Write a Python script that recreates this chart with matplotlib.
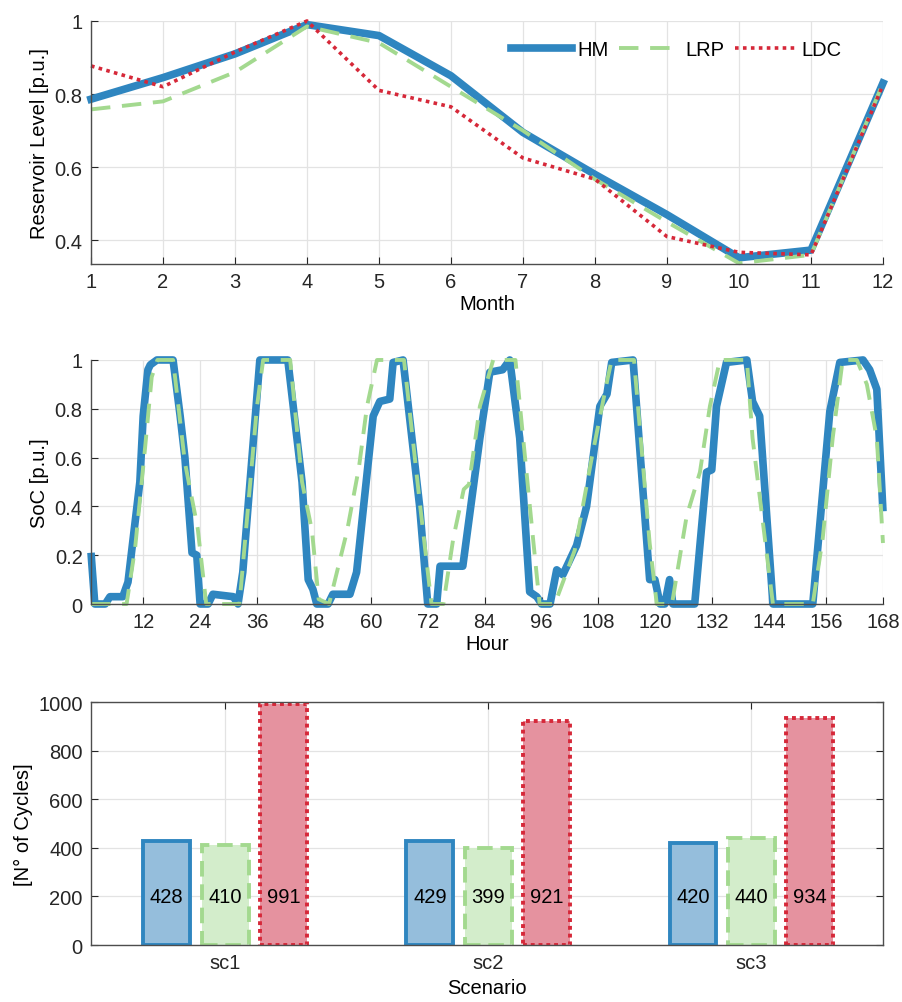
import matplotlib.pyplot as plt
import numpy as np

plt.rcParams['font.family'] = ['Liberation Sans', 'DejaVu Sans']
plt.rcParams['font.size'] = 14.5

# reservoir level per month [p.u.]
months = list(range(1, 13))
res_hm = [0.786, 0.845, 0.91, 0.99, 0.96, 0.85, 0.695, 0.58, 0.47, 0.352, 0.373, 0.83]
res_lrp = [0.758, 0.78, 0.86, 0.985, 0.94, 0.82, 0.70, 0.567, 0.45, 0.337, 0.36, 0.83]
res_ldc = [0.877, 0.82, 0.915, 1.0, 0.81, 0.765, 0.625, 0.567, 0.41, 0.367, 0.36, 0.825]

# battery state of charge over one week (hour, SoC) breakpoints
hm_hours = [1, 1.8, 4, 5, 7.7, 8.8, 11.3, 12, 13, 13.5, 14.9, 18.3, 19.8, 20.8, 22.3, 23.3, 24, 25.7,
            26.7, 31, 32, 33, 36.6, 42.5, 45.5, 46.8, 47.8, 48.6, 51, 52, 55.6, 57, 60.5, 61.9, 64,
            64.7, 66.8, 70.3, 72, 73.9, 74.6, 79.4, 83, 85.1, 87.8, 89.3, 91.4, 93.5, 95, 96, 97.8,
            99.2, 100.5, 103.4, 105.5, 108.3, 109.8, 110.8, 115.3, 118.8, 119.9, 121, 122, 123,
            123.7, 128.3, 129.4, 130.8, 131.9, 132.9, 135, 139.3, 140.5, 142, 144.8, 153.2, 156.8,
            158.9, 163.8, 165.2, 166.7, 168]
hm_soc = [0.21, 0, 0, 0.03, 0.03, 0.09, 0.5, 0.77, 0.96, 0.98, 1, 1, 0.77, 0.6, 0.21, 0.2, 0, 0,
          0.04, 0.03, 0, 0.13, 1, 1, 0.5, 0.1, 0.06, 0, 0, 0.04, 0.04, 0.13, 0.77, 0.83, 0.84,
          0.99, 1, 0.4, 0, 0, 0.155, 0.155, 0.68, 0.95, 0.96, 1, 0.68, 0.05, 0.03, 0, 0,
          0.14, 0.12, 0.24, 0.4, 0.81, 0.86, 0.99, 1, 0.1, 0.1, 0, 0, 0.1,
          0, 0, 0.24, 0.54, 0.55, 0.81, 0.99, 1, 0.83, 0.77, 0, 0, 0.79,
          0.99, 1, 0.96, 0.88, 0.38]
lrp_hours = [1, 8.5, 10.3, 12.4, 13.8, 15, 18.3, 20.8, 23.5, 25.3, 32.3, 36, 37.3, 43, 45.5, 47.6,
             49, 51.2, 55, 57.5, 59.2, 61.3, 67, 70.3, 72.8, 75.3, 77.4, 79.6, 80.7, 83, 85.8, 90.5,
             94.2, 95.6, 98.8, 103, 106.6, 110, 110.8, 115.5, 118.8, 120.3, 123.5, 126.6, 129.4,
             131.5, 133.6, 139.3, 140.5, 143.4, 144.8, 153.2, 155.3, 157.4, 159.5, 162.5, 164.6,
             166.7, 168]
lrp_soc = [0, 0, 0.23, 0.64, 0.93, 1, 1, 0.58, 0.31, 0, 0, 0.81, 1, 1, 0.5, 0.3,
           0.02, 0, 0.3, 0.56, 0.81, 1, 1, 0.42, 0, 0, 0.27, 0.47, 0.49, 0.81, 1, 1,
           0.27, 0, 0, 0.22, 0.6, 0.93, 1, 1, 0.25, 0, 0, 0.36, 0.54,
           0.81, 1, 1, 0.68, 0.22, 0, 0, 0.27, 0.68, 1, 1, 0.9,
           0.68, 0.25]

# number of battery cycles per scenario
scenarios = ['sc1', 'sc2', 'sc3']
cyc_hm = [428, 429, 420]
cyc_lrp = [410, 399, 440]
cyc_ldc = [991, 921, 934]

blue = '#2f86c0'
green = '#a3d98f'
red = '#d62839'
axis_col = '#4d4d4d'
grid_col = '#e3e3e3'

fig = plt.figure(figsize=(9.02, 10.03), dpi=100)
ax1 = fig.add_axes([0.1009, 0.7358, 0.8780, 0.2423])
ax2 = fig.add_axes([0.1009, 0.3968, 0.8780, 0.2433])
ax3 = fig.add_axes([0.1009, 0.0568, 0.8780, 0.2423])


def style(ax, box=False):
    for side in ['top', 'right']:
        ax.spines[side].set_visible(box)
    for sp in ax.spines.values():
        sp.set_color(axis_col)
        sp.set_linewidth(1.0)
    ax.tick_params(direction='in', length=5, colors='#262626', labelsize=14.5,
                   top=box, right=box, pad=6)
    ax.grid(True, color=grid_col, linewidth=0.9)
    ax.set_axisbelow(True)


# reservoir level
style(ax1)
ax1.plot(months, res_hm, color=blue, lw=5.5, label='HM', solid_joinstyle='round', clip_on=False)
ax1.plot(months, res_lrp, color=green, lw=2.8, ls=(0, (5, 3)), label='LRP', clip_on=False)
ax1.plot(months, res_ldc, color=red, lw=2.6, ls=(0, (1, 1.2)), label='LDC', clip_on=False)
ax1.set_xlim(1, 12)
ax1.set_ylim(0.335, 1.0)
ax1.set_xticks(months)
ax1.set_yticks([0.4, 0.6, 0.8, 1.0])
ax1.set_yticklabels(['0.4', '0.6', '0.8', '1'])
ax1.set_xlabel('Month', labelpad=2)
ax1.set_ylabel('Reservoir Level [p.u.]')
ax1.legend(loc='upper right', ncol=3, frameon=False, handlelength=3.0, handletextpad=0.3,
           columnspacing=0.5, bbox_to_anchor=(0.97, 0.995), fontsize=14.5)

# state of charge
style(ax2)
ax2.plot(hm_hours, hm_soc, color=blue, lw=5.5, solid_joinstyle='round', solid_capstyle='butt',
         clip_on=False)
ax2.plot(lrp_hours, lrp_soc, color=green, lw=2.8, ls=(0, (5, 3)), clip_on=False)
ax2.set_xlim(1, 168)
ax2.set_ylim(0, 1)
ax2.set_xticks(range(12, 169, 12))
ax2.set_yticks([0, 0.2, 0.4, 0.6, 0.8, 1.0])
ax2.set_yticklabels(['0', '0.2', '0.4', '0.6', '0.8', '1'])
ax2.set_xlabel('Hour', labelpad=2)
ax2.set_ylabel('SoC [p.u.]')

# cycles per scenario
style(ax3, box=True)
x = np.arange(1, len(scenarios) + 1)
off = 0.222
w = 0.178
ax3.bar(x - off, cyc_hm, w, color='#95bedc', edgecolor=blue, linewidth=2.8)
ax3.bar(x, cyc_lrp, w, color='#d3edcb', edgecolor=green, linewidth=2.8, ls=(0, (4, 2)))
ax3.bar(x + off, cyc_ldc, w, color='#e5929f', edgecolor=red, linewidth=2.8, ls=(0, (1, 1)))
for xs, vals in [(x - off, cyc_hm), (x, cyc_lrp), (x + off, cyc_ldc)]:
    for xi, v in zip(xs, vals):
        ax3.text(xi, 200, str(v), ha='center', va='center', fontsize=14.5, color='black')
ax3.set_xlim(0.49, 3.5)
ax3.set_ylim(0, 1000)
ax3.set_xticks(x)
ax3.set_xticklabels(scenarios)
ax3.set_yticks(range(0, 1001, 200))
ax3.set_xlabel('Scenario', labelpad=4)
ax3.set_ylabel('[N° of Cycles]')

fig.savefig('out.png', dpi=100)
